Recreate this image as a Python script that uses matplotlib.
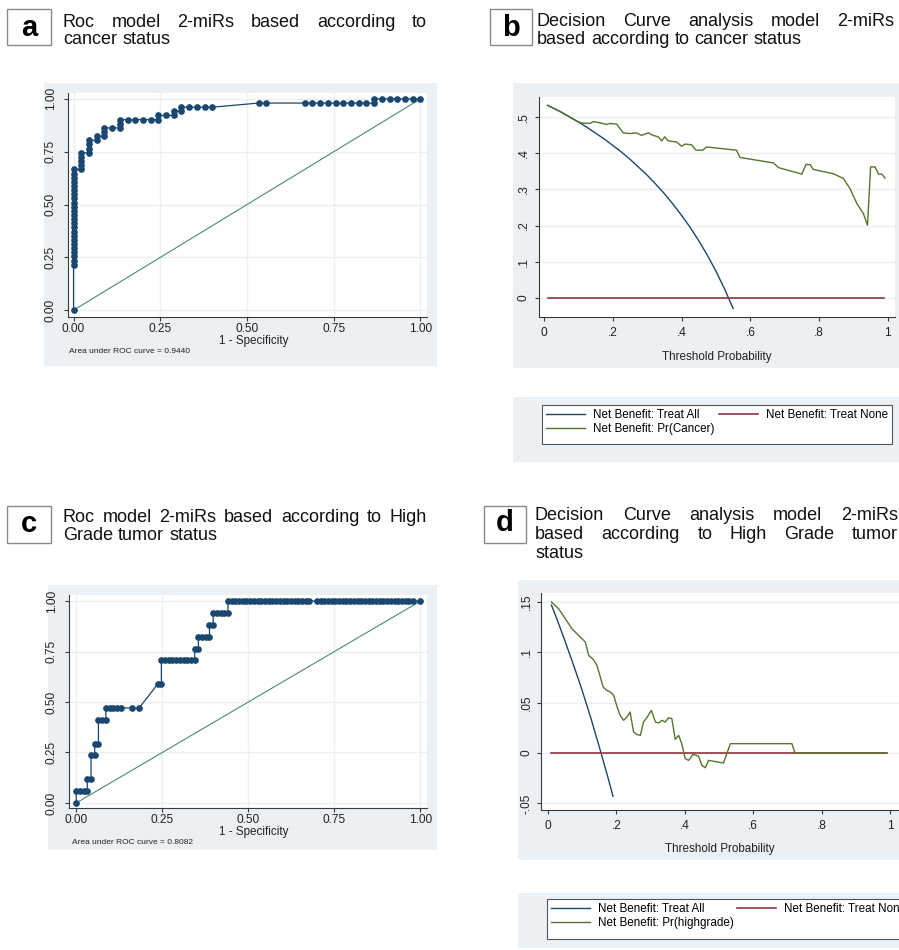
import matplotlib
matplotlib.use("Agg")
import matplotlib.pyplot as plt
from matplotlib.patches import Rectangle

plt.rcParams['font.family'] = ['Liberation Sans', 'DejaVu Sans']

# ---------------- colours ----------------
NAVY = '#1A476F'
MAROON = '#90353B'
FOREST = '#55752F'
DIAG = '#4A8B73'
BG = '#EAF0F3'
GRID = '#EAF0F3'
AXC = '#3A3A3A'

# ---------------- data: panel a (ROC, cancer status) ----------------
A_NNEG = 45
A_NPOS = 51
a_fp = [0, 0, 0, 0, 0, 0, 0, 0, 0, 0, 0, 0, 0, 0, 0, 0, 0, 0, 0, 0, 0, 0, 0, 0, 0,
        1, 1, 1, 1, 1,
        2, 2, 2, 2,
        3, 3,
        4, 4, 4,
        5,
        6, 6, 6,
        7, 8, 9, 10,
        11, 11,
        12,
        13, 13,
        14, 14,
        15, 16, 17, 18,
        24, 25,
        30, 31, 32, 33, 34, 35, 36, 37, 38, 39,
        39, 40, 41, 42, 43, 44, 45]
a_tp = [0, 11, 12, 13, 14, 15, 16, 17, 18, 19, 20, 21, 22, 23, 24, 25, 26, 27, 28, 29, 30, 31, 32, 33, 34,
        34, 35, 36, 37, 38,
        38, 39, 40, 41,
        41, 42,
        42, 43, 44,
        44,
        44, 45, 46,
        46, 46, 46, 46,
        46, 47,
        47,
        47, 48,
        48, 49,
        49, 49, 49, 49,
        50, 50,
        50, 50, 50, 50, 50, 50, 50, 50, 50, 50,
        51, 51, 51, 51, 51, 51, 51]
a_auc_text = "Area under ROC curve = 0.9440"

# ---------------- data: panel c (ROC, high grade) ----------------
C_NNEG = 93
C_NPOS = 17
c_fp = [0, 0, 1, 2, 3,
        3, 4,
        4, 5,
        5, 6,
        6, 7, 8,
        8, 9, 10, 11, 12, 15, 17,
        22, 23,
        23, 24, 25, 26, 27, 28, 29, 30, 31, 32,
        32, 33,
        33, 34, 35, 36,
        36, 37,
        37, 38, 39, 40, 41,
        41, 42, 43, 44, 45, 46, 47, 48, 49, 50, 51, 52, 53, 54, 55, 56, 57, 58, 59, 60, 61, 62, 63,
        65, 66, 67, 68, 69, 70, 71, 72, 73, 74, 75, 76, 77, 78, 79, 80, 81, 82, 83, 84, 85, 86, 87, 88, 89, 90, 91,
        93]
c_tp = [0, 1, 1, 1, 1,
        2, 2,
        4, 4,
        5, 5,
        7, 7, 7,
        8, 8, 8, 8, 8, 8, 8,
        10, 10,
        12, 12, 12, 12, 12, 12, 12, 12, 12, 12,
        13, 13,
        14, 14, 14, 14,
        15, 15,
        16, 16, 16, 16, 16,
        17, 17, 17, 17, 17, 17, 17, 17, 17, 17, 17, 17, 17, 17, 17, 17, 17, 17, 17, 17, 17, 17, 17,
        17, 17, 17, 17, 17, 17, 17, 17, 17, 17, 17, 17, 17, 17, 17, 17, 17, 17, 17, 17, 17, 17, 17, 17, 17, 17, 17,
        17]
c_auc_text = "Area under ROC curve = 0.8082"

roc_ticks = [0, 0.25, 0.5, 0.75, 1.0]
roc_ticklabels = ['0.00', '0.25', '0.50', '0.75', '1.00']

# ---------------- data: panel b (DCA, cancer) ----------------
b_thr_all = [0.01, 0.025, 0.05, 0.075, 0.10, 0.125, 0.15, 0.175, 0.20, 0.225, 0.25, 0.275,
             0.30, 0.325, 0.35, 0.375, 0.40, 0.425, 0.45, 0.475, 0.50, 0.525, 0.55]
b_nb_all = [0.532, 0.525, 0.513, 0.499, 0.486, 0.471, 0.455, 0.439, 0.421, 0.403, 0.383, 0.361,
            0.339, 0.314, 0.288, 0.259, 0.228, 0.195, 0.158, 0.118, 0.074, 0.025, -0.029]
b_thr_none = [0.01, 0.99]
b_nb_none = [0.0, 0.0]
b_thr_model = [0.01, 0.05, 0.08, 0.095, 0.11, 0.133, 0.143, 0.162, 0.182, 0.191, 0.211, 0.230,
               0.25, 0.269, 0.283, 0.303, 0.317, 0.332, 0.342, 0.351, 0.361, 0.385, 0.40, 0.41,
               0.429, 0.442, 0.461, 0.473, 0.512, 0.560, 0.570, 0.609, 0.667, 0.682, 0.75, 0.762,
               0.774, 0.783, 0.842, 0.871, 0.890, 0.910, 0.929, 0.941, 0.950, 0.963, 0.973, 0.983, 0.992]
b_nb_model = [0.532, 0.513, 0.497, 0.488, 0.483, 0.482, 0.487, 0.484, 0.479, 0.482, 0.480, 0.456,
              0.454, 0.456, 0.449, 0.456, 0.449, 0.445, 0.434, 0.445, 0.434, 0.431, 0.419, 0.425,
              0.423, 0.408, 0.408, 0.417, 0.413, 0.408, 0.388, 0.382, 0.373, 0.360, 0.342, 0.369,
              0.368, 0.355, 0.343, 0.330, 0.302, 0.261, 0.233, 0.201, 0.362, 0.362, 0.342, 0.342, 0.331]
b_yticks = [0, 0.1, 0.2, 0.3, 0.4, 0.5]
b_yticklabels = ['0', '.1', '.2', '.3', '.4', '.5']

# ---------------- data: panel d (DCA, high grade) ----------------
d_thr_all = [0.01, 0.025, 0.05, 0.075, 0.10, 0.125, 0.15, 0.175, 0.19]
d_nb_all = [0.147, 0.134, 0.111, 0.087, 0.062, 0.035, 0.006, -0.024, -0.043]
d_thr_none = [0.01, 0.99]
d_nb_none = [0.0, 0.0]
d_thr_model = [0.01, 0.031, 0.070, 0.109, 0.119, 0.133, 0.143, 0.153, 0.161, 0.172, 0.182, 0.192,
               0.202, 0.211, 0.221, 0.231, 0.240, 0.250, 0.260, 0.270, 0.279, 0.289, 0.302, 0.314,
               0.323, 0.333, 0.343, 0.352, 0.362, 0.372, 0.382, 0.391, 0.401, 0.411, 0.424, 0.44,
               0.45, 0.46, 0.469, 0.513, 0.533, 0.713, 0.722, 0.99]
d_nb_model = [0.150, 0.1434, 0.1235, 0.1103, 0.097, 0.0927, 0.0871, 0.0755, 0.0656, 0.0623, 0.0606, 0.0573,
              0.0457, 0.0374, 0.0325, 0.0358, 0.0407, 0.0209, 0.0185, 0.0175, 0.0308, 0.0351, 0.0424, 0.0308,
              0.0298, 0.0325, 0.0308, 0.0351, 0.0341, 0.0136, 0.0175, 0.0093, -0.0056, -0.0073, -0.0013, -0.003,
              -0.0123, -0.0146, -0.0073, -0.0099, 0.0093, 0.0093, 0.0, 0.0]
d_yticks = [-0.05, 0, 0.05, 0.1, 0.15]
d_yticklabels = ['-.05', '0', '.05', '.1', '.15']

dca_xticks = [0, 0.2, 0.4, 0.6, 0.8, 1.0]
dca_xticklabels = ['0', '.2', '.4', '.6', '.8', '1']

legend_b = ['Net Benefit: Treat All', 'Net Benefit: Treat None', 'Net Benefit: Pr(Cancer)']
legend_d = ['Net Benefit: Treat All', 'Net Benefit: Treat None', 'Net Benefit: Pr(highgrade)']

# ---------------- figure ----------------
W, H = 899, 950
fig = plt.figure(figsize=(W / 100, H / 100), dpi=100)
fig.patch.set_facecolor('white')
renderer = fig.canvas.get_renderer()


def fx(px):
    return px / W


def fy(py):
    return 1 - py / H


def axes_px(x0, y0, x1, y1):
    return fig.add_axes([x0 / W, 1 - y1 / H, (x1 - x0) / W, (y1 - y0) / H])


def rect_px(x0, y0, x1, y1, fc, ec='none', lw=0.0, z=-5):
    fig.add_artist(Rectangle((x0 / W, 1 - y1 / H), (x1 - x0) / W, (y1 - y0) / H,
                             transform=fig.transFigure, facecolor=fc, edgecolor=ec,
                             linewidth=lw, zorder=z))


def letter_box(x0, y0, x1, y1, letter, xc, ybase):
    rect_px(x0, y0, x1, y1, 'white', '#8a8a8a', 1.0, 2)
    fig.text(fx(xc), fy(ybase), letter, fontsize=21, fontweight='bold', ha='center',
             va='baseline', color='black', zorder=3)


TITLE_SIZE = 13


def title_line(text, x0, x1, ybase, justify=True):
    words = text.split()
    ts = [fig.text(0, fy(ybase), w, fontsize=TITLE_SIZE, ha='left', va='baseline', color='#111111')
          for w in words]
    widths = [t.get_window_extent(renderer).width for t in ts]
    space = TITLE_SIZE * 100 / 72 * 0.278
    if justify and len(words) > 1:
        gap = max(space, (x1 - x0 - sum(widths)) / (len(words) - 1))
    else:
        gap = space
    x = x0
    for t, w in zip(ts, widths):
        t.set_x(fx(x))
        x += w + gap


TICK_SIZE = 8.6
LABEL_SIZE = 8.4


def style(ax, xlim, ylim, xticks, xtl, yticks, ytl, vgrid, xpad, ypad):
    ax.set_facecolor('white')
    ax.set_xlim(*xlim)
    ax.set_ylim(*ylim)
    for s in ['top', 'right']:
        ax.spines[s].set_visible(False)
    for s in ['left', 'bottom']:
        ax.spines[s].set_color(AXC)
        ax.spines[s].set_linewidth(0.8)
    ax.set_xticks(xticks)
    ax.set_xticklabels(xtl)
    ax.set_yticks(yticks)
    ax.set_yticklabels(ytl, rotation=90, va='center')
    ax.tick_params(direction='out', length=3.2, width=0.8, color=AXC, labelsize=TICK_SIZE,
                   labelcolor='#222222')
    ax.tick_params(axis='x', pad=xpad)
    ax.tick_params(axis='y', pad=ypad)
    ax.yaxis.grid(True, color=GRID, linewidth=1.0)
    if vgrid:
        ax.xaxis.grid(True, color=GRID, linewidth=1.0)
    ax.set_axisbelow(True)


def legend_at(handles, labels, x0, y0, x1, y1):
    rect_px(x0, y0, x1, y1, 'white', '#555555', 0.8, 1)
    leg = fig.legend(handles, labels, ncol=2, loc='upper left', mode='expand',
                     bbox_to_anchor=(fx(x0), fy(y1), (x1 - x0) / W, (y1 - y0) / H),
                     bbox_transform=fig.transFigure, borderaxespad=0, frameon=False,
                     fontsize=8.4, handlelength=3.3, handletextpad=0.7, labelspacing=0.18,
                     borderpad=0.35, columnspacing=1.0)
    return leg


# backgrounds
rect_px(44, 83, 437, 366, BG)
rect_px(513, 83, 899, 368, BG)
rect_px(513, 397, 899, 462, BG)
rect_px(48, 585, 437, 850, BG)
rect_px(518, 580, 899, 860, BG)
rect_px(518, 893, 899, 948, BG)

# titles
letter_box(7, 9, 51, 45, 'a', 29, 36)
title_line('Roc model 2-miRs based according to', 63, 427, 27)
title_line('cancer status', 63, 427, 44, justify=False)

letter_box(490, 9, 532, 45, 'b', 511, 36)
title_line('Decision Curve analysis model 2-miRs', 537, 894, 26)
title_line('based according to cancer status', 537, 894, 44, justify=False)

letter_box(7, 506, 51, 543, 'c', 29, 532)
title_line('Roc model 2-miRs based according to High', 63, 427, 522)
title_line('Grade tumor status', 63, 427, 540, justify=False)

letter_box(484, 506, 526, 543, 'd', 505, 531)
title_line('Decision Curve analysis model 2-miRs', 535, 898, 520)
title_line('based according to High Grade tumor', 535, 898, 539)
title_line('status', 535, 898, 558, justify=False)

# ---------------- panel a ----------------
ax_a = axes_px(68, 93, 427, 317)
style(ax_a, (-0.016, 1.019), (-0.032, 1.028), roc_ticks, roc_ticklabels, roc_ticks, roc_ticklabels,
      True, 1, 5)
ax_a.plot([0, 1], [0, 1], color=DIAG, lw=0.8, zorder=2)
ax_a.plot([k / A_NNEG for k in a_fp], [k / A_NPOS for k in a_tp], '-o', color=NAVY, lw=0.9,
          ms=3.8, mec=NAVY, mfc=NAVY, zorder=3, clip_on=False)
ax_a.set_xlabel('1 - Specificity', fontsize=LABEL_SIZE, color='#222222')
ax_a.xaxis.set_label_coords((254 - 68) / 359, (317 - 335) / 224)
fig.text(fx(69), fy(351), a_auc_text, fontsize=6, va='center', ha='left', color='#222222')

# ---------------- panel c ----------------
ax_c = axes_px(69, 595, 427, 808)
style(ax_c, (-0.021, 1.019), (-0.025, 1.03), roc_ticks, roc_ticklabels, roc_ticks, roc_ticklabels,
      True, 1, 5)
ax_c.plot([0, 1], [0, 1], color=DIAG, lw=0.8, zorder=2)
ax_c.plot([k / C_NNEG for k in c_fp], [k / C_NPOS for k in c_tp], '-o', color=NAVY, lw=0.9,
          ms=3.8, mec=NAVY, mfc=NAVY, zorder=3, clip_on=False)
ax_c.set_xlabel('1 - Specificity', fontsize=LABEL_SIZE, color='#222222')
ax_c.xaxis.set_label_coords((254 - 69) / 358, (808 - 826) / 213)
fig.text(fx(72), fy(842), c_auc_text, fontsize=6, va='center', ha='left', color='#222222')

# ---------------- panel b ----------------
ax_b = axes_px(539, 97, 895, 317)
style(ax_b, (-0.015, 1.021), (-0.0525, 0.555), dca_xticks, dca_xticklabels, b_yticks, b_yticklabels,
      False, 4, 3.5)
hb_all, = ax_b.plot(b_thr_all, b_nb_all, color=NAVY, lw=1.0, zorder=3)
hb_none, = ax_b.plot(b_thr_none, b_nb_none, color=MAROON, lw=1.2, zorder=3)
hb_mod, = ax_b.plot(b_thr_model, b_nb_model, color=FOREST, lw=1.0, zorder=4)
ax_b.set_xlabel('Threshold Probability', fontsize=LABEL_SIZE, color='#222222')
ax_b.xaxis.set_label_coords(0.5, (317 - 351) / 220)

legend_at([hb_all, hb_mod, hb_none], [legend_b[0], legend_b[2], legend_b[1]], 542, 405, 892, 444)

# ---------------- panel d ----------------
ax_d = axes_px(541, 593, 900, 810)
style(ax_d, (-0.0205, 1.029), (-0.0566, 0.159), dca_xticks, dca_xticklabels, d_yticks, d_yticklabels,
      False, 4, 3.0)
hd_all, = ax_d.plot(d_thr_all, d_nb_all, color=NAVY, lw=1.0, zorder=3)
hd_none, = ax_d.plot(d_thr_none, d_nb_none, color=MAROON, lw=1.2, zorder=3)
hd_mod, = ax_d.plot(d_thr_model, d_nb_model, color=FOREST, lw=1.0, zorder=4)
ax_d.set_xlabel('Threshold Probability', fontsize=LABEL_SIZE, color='#222222')
ax_d.xaxis.set_label_coords((720 - 541) / 359, (810 - 843) / 217)

legend_at([hd_all, hd_mod, hd_none], [legend_d[0], legend_d[2], legend_d[1]], 547, 899, 910, 939)

fig.savefig('out.png', dpi=100, facecolor='white')
